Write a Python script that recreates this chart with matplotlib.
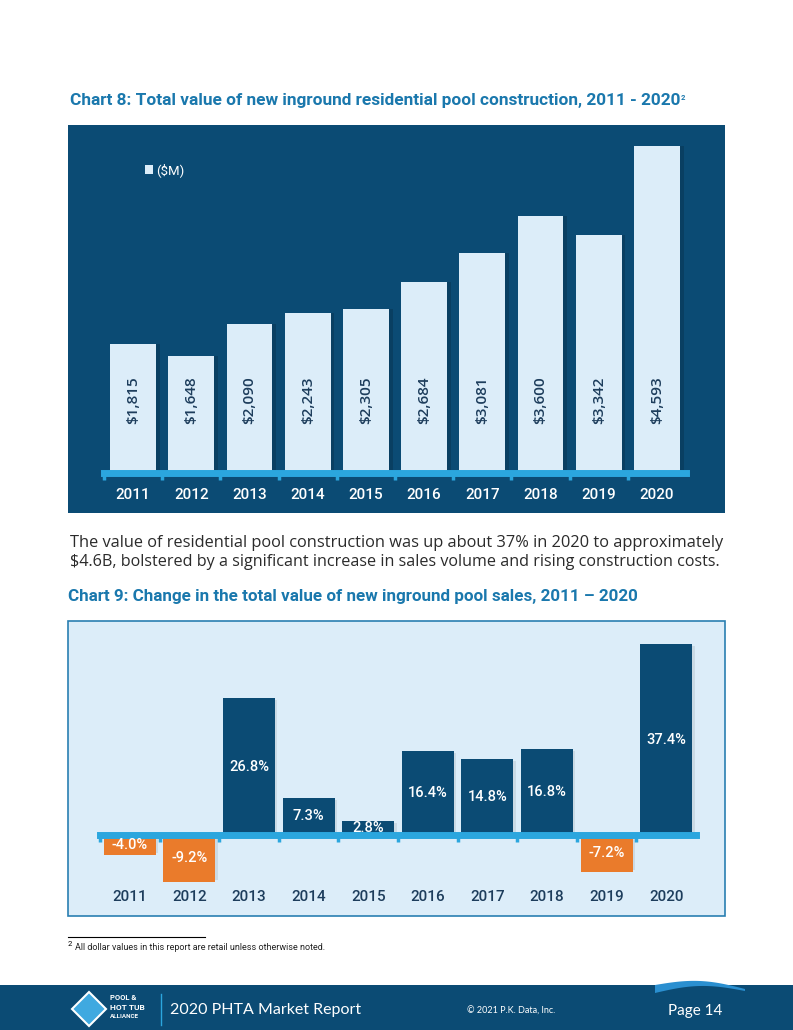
"""PHTA 2020 market report, page 14: charts 8 and 9 (pool construction value
and its year-over-year change), laid out like the printed page."""

import matplotlib

matplotlib.use("Agg")
import matplotlib.pyplot as plt
import numpy as np
from matplotlib.patches import Polygon, Rectangle

# chart 8: total value of new inground residential pool construction ($M)
years = ["2011", "2012", "2013", "2014", "2015", "2016", "2017", "2018", "2019", "2020"]
value_musd = [1815, 1648, 2090, 2243, 2305, 2684, 3081, 3600, 3342, 4593]
value_labels = ["$1,815", "$1,648", "$2,090", "$2,243", "$2,305",
                "$2,684", "$3,081", "$3,600", "$3,342", "$4,593"]

# chart 9: change in total value of new inground pool sales (%)
change_pct = [-4.0, -9.2, 26.8, 7.3, 2.8, 16.4, 14.8, 16.8, -7.2, 37.4]

W, H = 793, 1030
NAVY = "#0b4b74"
LIGHT = "#dcedf9"
CYAN = "#2ba6de"
TITLE_BLUE = "#1a78ad"
ORANGE = "#ea7b2b"
TEXT_NAVY = "#1d3d5c"

plt.rcParams["font.family"] = ["Roboto", "DejaVu Sans"]

fig = plt.figure(figsize=(W / 100, H / 100), dpi=100)
renderer = fig.canvas.get_renderer()


def fx(x):
    return x / W


def fy(y):
    return 1 - y / H


def axes_px(left, top, right, bottom):
    return fig.add_axes([fx(left), fy(bottom), (right - left) / W, (bottom - top) / H])


def rect_px(left, top, right, bottom, **kw):
    fig.patches.append(Rectangle((fx(left), fy(bottom)), (right - left) / W,
                                 (bottom - top) / H, transform=fig.transFigure, **kw))


def fit_text(x0, y, s, width_px, size, **kw):
    """Place text at left x0 and rescale its font so it spans width_px."""
    t = fig.text(fx(x0), fy(y), s, fontsize=size, va="center", ha="left", **kw)
    w = t.get_window_extent(renderer).width
    t.set_fontsize(size * width_px / w)
    return t


def style_baseline(ax, n):
    for side in ("top", "left", "right"):
        ax.spines[side].set_visible(False)
    ax.spines["bottom"].set_color(CYAN)
    ax.spines["bottom"].set_linewidth(5)
    ax.spines["bottom"].set_zorder(4)
    ax.set_xlim(-0.5, n - 0.5)
    ax.set_yticks([])
    ax.set_xticks(np.arange(n) - 0.5, minor=True)
    ax.tick_params(axis="x", which="minor", length=5, width=2.5, color=CYAN, direction="out")
    ax.patch.set_visible(False)


x = np.arange(len(years))

# ---------------- chart 8 ----------------
fit_text(70, 101, "Chart 8: Total value of new inground residential pool construction, 2011 - 2020",
         609, 11, color=TITLE_BLUE, fontweight="bold")
fig.text(fx(681), fy(97), "2", color=TITLE_BLUE, fontsize=5.5, fontweight="bold", va="center")

rect_px(68, 125, 725, 513, facecolor=NAVY, edgecolor="none", zorder=-2)

ax1 = axes_px(104, 131, 686, 473)
ax1.bar(x + 0.06, value_musd, width=0.8, color="black", alpha=0.15, zorder=1)
ax1.bar(x, value_musd, width=0.79, color=LIGHT, zorder=2)
ax1.set_ylim(0, 4800)
style_baseline(ax1, len(years))
ax1.set_xticks(x)
ax1.set_xticklabels(years, color="white", fontsize=11, fontweight="medium")
ax1.tick_params(axis="x", which="major", length=0, pad=11)
for xi, lab in zip(x, value_labels):
    ax1.text(xi, 1025, lab, rotation=90, ha="center", va="center", color=TEXT_NAVY,
             fontsize=11, fontweight="semibold", family=["Open Sans", "DejaVu Sans"], zorder=3)

rect_px(145, 165, 153, 174, facecolor=LIGHT, edgecolor="none", zorder=3)
fig.text(fx(156), fy(170), "($M)", color="white", fontsize=9.5, va="center", zorder=3)

# ---------------- paragraph ----------------
fit_text(70, 543, "The value of residential pool construction was up about 37% in 2020 to approximately",
         655, 10.6, color="#2b2b2b", family=["Open Sans", "DejaVu Sans"])
fit_text(70, 562, "$4.6B, bolstered by a significant increase in sales volume and rising construction costs.",
         655, 10.6, color="#2b2b2b", family=["Open Sans", "DejaVu Sans"])

# ---------------- chart 9 ----------------
fit_text(68, 596, "Chart 9: Change in the total value of new inground pool sales, 2011 \u2013 2020",
         570, 11, color=TITLE_BLUE, fontweight="bold")

rect_px(68, 621, 725, 916, facecolor=LIGHT, edgecolor="#2a7fb2", linewidth=1.2, zorder=-2)

ax2 = axes_px(100, 631, 696, 896)
colors = [ORANGE if v < 0 else NAVY for v in change_pct]
ax2.bar(x + 0.04, np.array(change_pct) - 0.4 * np.sign(change_pct), width=0.87,
        color="black", alpha=0.08, zorder=1)
ax2.bar(x, change_pct, width=0.87, color=colors, zorder=2)
ax2.set_ylim(-12, 40)
style_baseline(ax2, len(years))
ax2.spines["bottom"].set_position(("data", 0))
ax2.set_xticks(x)
ax2.set_xticklabels([])
ax2.tick_params(axis="x", which="major", length=0)
for xi, v in zip(x, change_pct):
    ax2.text(xi, v / 2, f"{v:.1f}%", ha="center", va="center", color="white",
             fontsize=10.5, fontweight="medium", zorder=5)
    ax2.text(xi, -12.2, years[xi], ha="center", va="center", color=TEXT_NAVY,
             fontsize=11, fontweight="medium", clip_on=False)

# ---------------- footnote ----------------
fig.lines.append(plt.Line2D([fx(68), fx(205)], [fy(937), fy(937)], color="black",
                            linewidth=0.8, transform=fig.transFigure))
fig.text(fx(68), fy(944), "2", fontsize=5.5, va="center", color="black")
fig.text(fx(75), fy(948), "All dollar values in this report are retail unless otherwise noted.",
         fontsize=6.5, va="center", color="#222222")

# ---------------- footer band ----------------
rect_px(0, 985, W, H, facecolor=NAVY, edgecolor="none", zorder=-2)
t = np.linspace(0, 1, 60)
wave_x = 655 + 90 * t
wave_top = 985 - 6 * np.sin(np.pi * t) + 4 * t
wave_bot = wave_top + 8 - 6 * t
pts = [(fx(a), fy(b)) for a, b in zip(wave_x, wave_top)] + \
      [(fx(a), fy(b)) for a, b in zip(wave_x[::-1], wave_bot[::-1])]
fig.patches.append(Polygon(pts, closed=True, transform=fig.transFigure,
                           facecolor="#2a8fd0", edgecolor="none", zorder=1))

diamond = [(fx(89), fy(992)), (fx(106), fy(1009)), (fx(89), fy(1026)), (fx(72), fy(1009))]
fig.patches.append(Polygon(diamond, closed=True, transform=fig.transFigure,
                           facecolor="#3fa9e0", edgecolor="white", linewidth=1.5, zorder=2))
fig.text(fx(110), fy(998), "POOL &", color="white", fontsize=5.5, fontweight="bold", va="center")
fig.text(fx(110), fy(1008), "HOT TUB", color="white", fontsize=6, fontweight="bold", va="center")
fig.text(fx(110), fy(1017), "ALLIANCE", color="white", fontsize=4.5, fontweight="bold", va="center")
fig.lines.append(plt.Line2D([fx(161), fx(161)], [fy(994), fy(1025)], color=CYAN,
                            linewidth=1, transform=fig.transFigure))
fig.text(fx(170), fy(1010), "2020 PHTA Market Report", color="white", fontsize=11.5,
         va="center", family=["Lato", "DejaVu Sans"])
fig.text(fx(467), fy(1011), "\u00a9 2021 P.K. Data, Inc.", color="white", fontsize=6.5,
         va="center", family=["Lato", "DejaVu Sans"])
fig.text(fx(668), fy(1011), "Page 14", color="white", fontsize=11,
         va="center", family=["Lato", "DejaVu Sans"])

fig.savefig("out.png", dpi=100)
